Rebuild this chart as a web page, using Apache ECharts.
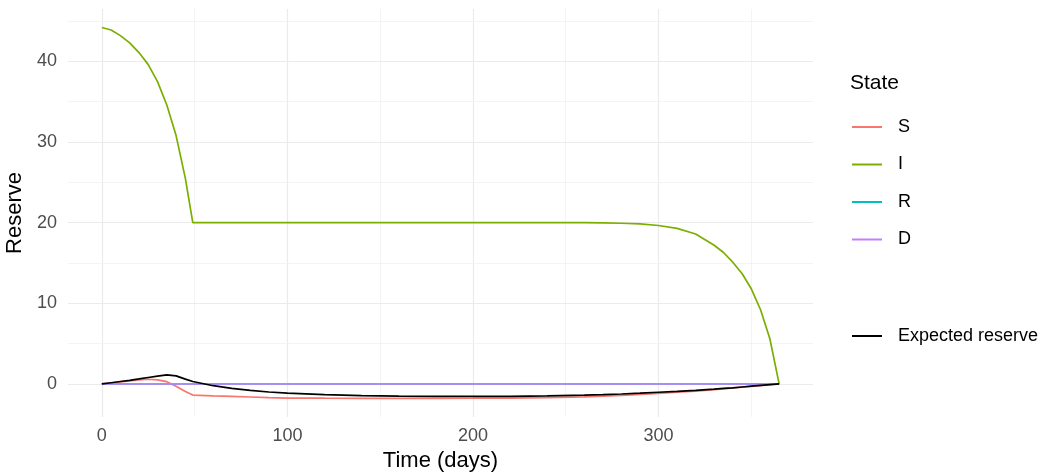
<!DOCTYPE html>
<html>
<head>
<meta charset="utf-8">
<title>Reserve over time</title>
<script src="https://cdn.jsdelivr.net/npm/echarts@6/dist/echarts.min.js"></script>
<style>
	html, body { margin: 0; padding: 0; background: #fff; }
	#main { width: 1052px; height: 475px; }
</style>
</head>
<body>
<div id="main"></div>
<script>
// time points (days) shared by every series
var days = [0, 5, 10, 15, 20, 25, 30, 35, 40, 45, 49, 50, 60, 70, 80, 90, 100, 120, 140, 160, 180, 200,
	220, 240, 260, 270, 280, 290, 300, 310, 320, 330, 335, 340, 345, 350, 355, 360, 365];

// reserve per state
var reserveS = [0, 0.12, 0.25, 0.38, 0.5, 0.58, 0.5, 0.28, -0.3, -0.95, -1.38, -1.4, -1.48, -1.55, -1.62, -1.7, -1.75,
	-1.77, -1.78, -1.78, -1.78, -1.77, -1.75, -1.7, -1.6, -1.5, -1.42, -1.3, -1.16, -1.02, -0.88, -0.7, -0.6, -0.5,
	-0.4, -0.3, -0.2, -0.1, 0];
var reserveI = [44.2, 43.9, 43.2, 42.3, 41.1, 39.6, 37.5, 34.6, 30.8, 25.5, 20.0, 20.0, 20.0, 20.0, 20.0, 20.0, 20.0,
	20.0, 20.0, 20.0, 20.0, 20.0, 20.0, 20.0, 20.0, 19.98, 19.93, 19.85, 19.65, 19.3, 18.6, 17.2, 16.3, 15.1,
	13.7, 11.8, 9.2, 5.6, 0];
var reserveR = [0, 0, 0, 0, 0, 0, 0, 0, 0, 0, 0, 0, 0, 0, 0, 0, 0, 0, 0, 0, 0, 0, 0, 0, 0, 0, 0, 0, 0, 0, 0, 0, 0, 0,
	0, 0, 0, 0, 0];
var reserveD = [0, 0, 0, 0, 0, 0, 0, 0, 0, 0, 0, 0, 0, 0, 0, 0, 0, 0, 0, 0, 0, 0, 0, 0, 0, 0, 0, 0, 0, 0, 0, 0, 0, 0,
	0, 0, 0, 0, 0];
var expectedReserve = [0, 0.15, 0.3, 0.45, 0.62, 0.8, 0.98, 1.12, 1.0, 0.6, 0.3, 0.25, -0.22, -0.55, -0.8, -1.0, -1.13,
	-1.32, -1.45, -1.52, -1.55, -1.55, -1.53, -1.48, -1.38, -1.32, -1.25, -1.15, -1.03, -0.92, -0.8, -0.65, -0.56,
	-0.48, -0.38, -0.28, -0.18, -0.08, 0];

// tick labels and grid breaks
var xTicks = [0, 100, 200, 300];
var xMinor = [50, 150, 250, 350];
var yTicks = [0, 10, 20, 30, 40];
var yMinor = [5, 15, 25, 35, 45];

var stateNames = ['S', 'I', 'R', 'D'];
var stateColors = ['#F8766D', '#7CAE00', '#00BFC4', '#C77CFF'];
var stateValues = [reserveS, reserveI, reserveR, reserveD];

function pairs(values) {
	return days.map(function (d, i) { return [d, values[i]]; });
}

var majorGrid = { color: '#EBEBEB', width: 1.2, type: 'solid' };
var minorGrid = { color: '#EFEFEF', width: 0.7, type: 'solid' };
var gridLines = []
	.concat(xTicks.map(function (v) { return { xAxis: v, lineStyle: majorGrid }; }))
	.concat(xMinor.map(function (v) { return { xAxis: v, lineStyle: minorGrid }; }))
	.concat(yTicks.map(function (v) { return { yAxis: v, lineStyle: majorGrid }; }))
	.concat(yMinor.map(function (v) { return { yAxis: v, lineStyle: minorGrid }; }));

var series = [{
	name: 'grid',
	type: 'line',
	data: [[0, 0]],
	showSymbol: false,
	lineStyle: { width: 0, opacity: 0 },
	z: 0,
	markLine: {
		silent: true,
		z: 0,
		symbol: ['none', 'none'],
		label: { show: false },
		animation: false,
		data: gridLines
	}
}];
stateNames.forEach(function (name, i) {
	series.push({
		name: name,
		type: 'line',
		data: pairs(stateValues[i]),
		showSymbol: false,
		symbol: 'none',
		lineStyle: { color: stateColors[i], width: 1.7 },
		itemStyle: { color: stateColors[i] },
		z: 2
	});
});
series.push({
	name: 'Expected reserve',
	type: 'line',
	data: pairs(expectedReserve),
	showSymbol: false,
	symbol: 'none',
	lineStyle: { color: '#000000', width: 1.7 },
	itemStyle: { color: '#000000' },
	z: 3
});

var myChart = echarts.init(document.getElementById('main'));
myChart.setOption({
	animation: false,
	textStyle: { fontFamily: 'Liberation Sans, Arial, sans-serif' },
	title: {
		text: 'State',
		left: 850,
		top: 73,
		padding: 0,
		textStyle: { fontSize: 21, fontWeight: 'normal', color: '#000' }
	},
	legend: [{
		data: stateNames,
		orient: 'vertical',
		left: 852,
		top: 118,
		padding: 0,
		itemGap: 19.5,
		itemWidth: 30,
		itemHeight: 2,
		icon: 'rect',
		selectedMode: false,
		textStyle: { fontSize: 18, color: '#000', padding: [0, 0, 0, 11] }
	}, {
		data: ['Expected reserve'],
		orient: 'vertical',
		left: 852,
		top: 327,
		padding: 0,
		itemWidth: 30,
		itemHeight: 2,
		icon: 'rect',
		selectedMode: false,
		textStyle: { fontSize: 18, color: '#000', padding: [0, 0, 0, 11] }
	}],
	grid: { left: 68, right: 239, top: 9, bottom: 58, outerBoundsMode: 'none', containLabel: false },
	xAxis: {
		type: 'value',
		min: -18.25,
		max: 383.25,
		name: 'Time (days)',
		nameLocation: 'middle',
		nameGap: 33,
		nameTextStyle: { fontSize: 22, color: '#000' },
		axisLine: { show: false },
		axisTick: { show: false },
		splitLine: { show: false },
		axisLabel: { customValues: xTicks, fontSize: 18, color: '#4D4D4D', margin: 10 }
	},
	yAxis: {
		type: 'value',
		min: -4.1,
		max: 46.5,
		name: 'Reserve',
		nameLocation: 'middle',
		nameGap: 40,
		nameTextStyle: { fontSize: 22, color: '#000' },
		axisLine: { show: false },
		axisTick: { show: false },
		splitLine: { show: false },
		axisLabel: { customValues: yTicks, fontSize: 18, color: '#4D4D4D', margin: 11 }
	},
	series: series
});
</script>
</body>
</html>
